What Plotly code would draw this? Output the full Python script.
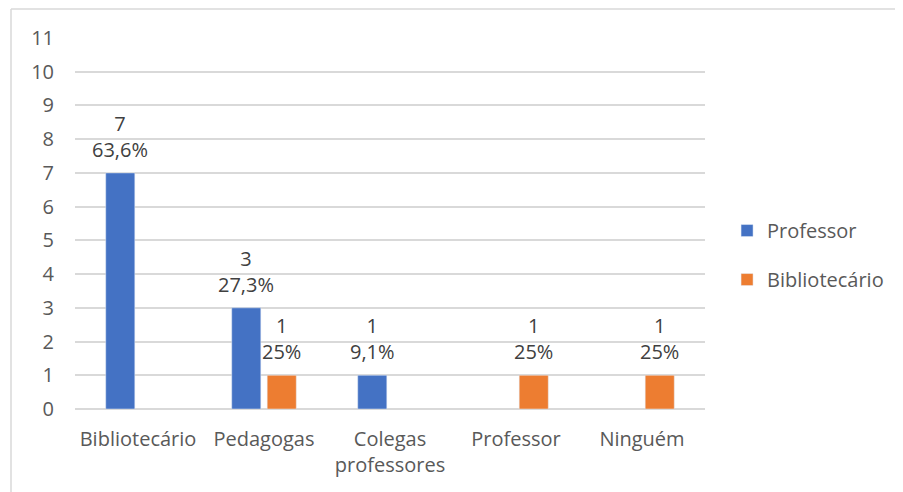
import plotly.graph_objects as go

categories = ["Bibliotecário", "Pedagogas", "Colegas<br>professores", "Professor", "Ninguém"]
professor_vals = [7, 3, 1, None, None]
professor_pct = ["63,6%", "27,3%", "9,1%", None, None]
bibliotecario_vals = [None, 1, None, 1, 1]
bibliotecario_pct = [None, "25%", None, "25%", "25%"]
y_ticks = list(range(0, 12))

FONT = "Open Sans, Lato, sans-serif"
TXT = "#595959"
FS = 20
BARGAP = 0.437
PLOT_W = 630

fig = go.Figure()
fig.add_trace(go.Bar(
    name="Professor", x=categories, y=professor_vals,
    marker_color="#4472C4", legendgroup="a",
))
fig.add_trace(go.Bar(
    name="Bibliotecário", x=categories, y=bibliotecario_vals,
    marker_color="#ED7D31", legendgroup="b",
))

slot = PLOT_W / len(categories) * (1 - BARGAP) / 2
annotations = []
for vals, pcts, sign in ((professor_vals, professor_pct, -1),
                         (bibliotecario_vals, bibliotecario_pct, 1)):
    for cat, v, p in zip(categories, vals, pcts):
        if v is None:
            continue
        annotations.append(dict(
            x=cat, y=v, xref="x", yref="y", text=f"{v}<br>{p}",
            showarrow=False, xanchor="center", yanchor="bottom",
            xshift=sign * slot / 2, yshift=8,
            font=dict(family=FONT, size=FS, color="#404040"),
        ))

fig.update_layout(
    width=903, height=492,
    margin=dict(l=67, r=206, t=30, b=91),
    paper_bgcolor="white", plot_bgcolor="white",
    barmode="group", bargap=BARGAP, bargroupgap=0.18,
    font=dict(family=FONT, size=FS, color=TXT),
    legend=dict(x=1.035, y=0.415, xanchor="left", yanchor="middle",
                tracegroupgap=20, font=dict(family=FONT, size=FS, color=TXT),
                itemwidth=30),
    annotations=annotations,
    shapes=[
        dict(type="line", xref="paper", yref="paper",
             x0=(11 - 75) / 630, x1=(903 - 75) / 630 + 0.02,
             y0=(409 - 9) / 371, y1=(409 - 9) / 371,
             line=dict(color="#d9d9d9", width=1.5)),
        dict(type="line", xref="paper", yref="paper",
             x0=(11 - 75) / 630, x1=(11 - 75) / 630,
             y0=(409 - 9) / 371, y1=(409 - 510) / 371,
             line=dict(color="#d9d9d9", width=1.5)),
    ],
)
fig.update_yaxes(range=[0, 11], tickvals=y_ticks, showgrid=True,
                 gridcolor="#d9d9d9", gridwidth=1.5, zeroline=True,
                 zerolinecolor="#d9d9d9", zerolinewidth=1.5,
                 ticklabelstandoff=20, showline=False,
                 tickfont=dict(family=FONT, size=FS, color=TXT))
fig.update_xaxes(showline=False, ticks="", showgrid=False,
                 ticklabelstandoff=16,
                 tickfont=dict(family=FONT, size=FS, color=TXT))

fig.write_html("out.html")
